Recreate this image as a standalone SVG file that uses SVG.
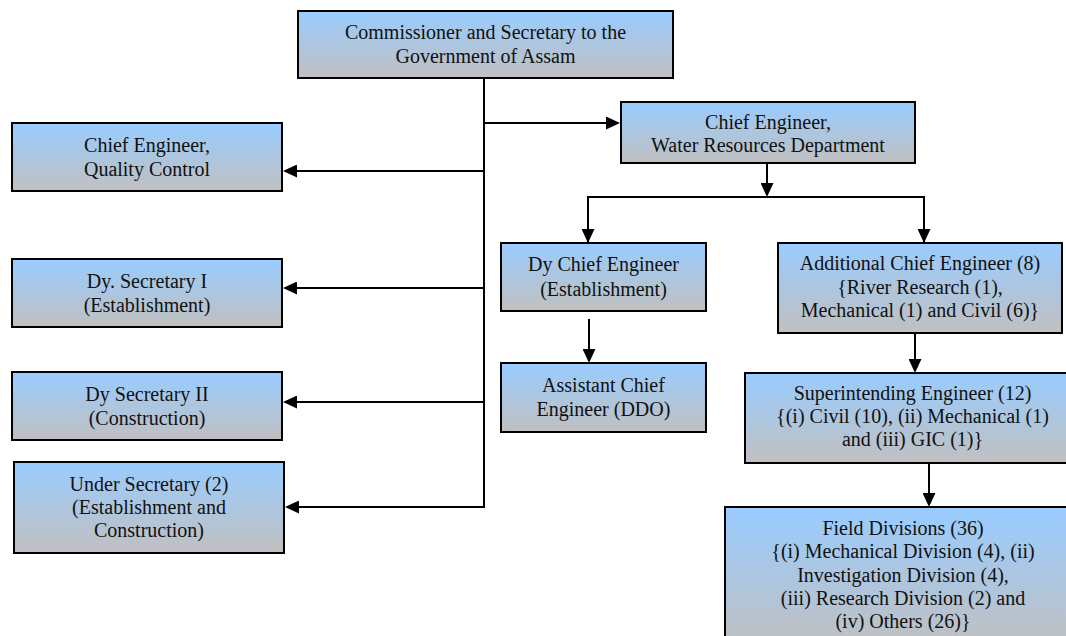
<svg xmlns="http://www.w3.org/2000/svg" width="1066" height="636" viewBox="0 0 1066 636">
<defs>
<linearGradient id="g" x1="0" y1="0" x2="0" y2="1">
<stop offset="0" stop-color="#99CCFF"/>
<stop offset="1" stop-color="#C0C0C0"/>
</linearGradient>
<marker id="ah" viewBox="0 0 14 13" refX="10" refY="6.5" markerWidth="14" markerHeight="13" markerUnits="userSpaceOnUse" orient="auto">
<path d="M0,0 L14,6.5 L0,13 Z" fill="#000"/>
</marker>
</defs>
<style>
.box{fill:url(#g);stroke:#000;stroke-width:2}
text{font-family:"Liberation Serif","Times New Roman",serif;font-size:20px;fill:#111;text-anchor:middle}
.c{fill:none;stroke:#000;stroke-width:2}
.a{marker-end:url(#ah)}
</style>
<rect width="1066" height="636" fill="#fff"/>
<g id="connectors">
<line class="c" x1="484" y1="78" x2="484" y2="508"/>
<line class="c a" x1="484" y1="123" x2="616" y2="123"/>
<line class="c a" x1="485" y1="171" x2="287" y2="171"/>
<line class="c a" x1="485" y1="288" x2="287" y2="288"/>
<line class="c a" x1="485" y1="402" x2="287" y2="402"/>
<line class="c a" x1="485" y1="507" x2="289" y2="507"/>
<line class="c a" x1="767" y1="163" x2="767" y2="193"/>
<polyline class="c" points="588,243 588,197 924,197 924,243"/>
<line class="c a" x1="588" y1="198" x2="588" y2="239"/>
<line class="c a" x1="924" y1="198" x2="924" y2="239"/>
<line class="c a" x1="589" y1="319" x2="589" y2="359"/>
<line class="c a" x1="915" y1="333" x2="915" y2="369"/>
<line class="c a" x1="929" y1="463" x2="929" y2="503"/>
</g>
<g id="n-commissioner">
<rect class="box" x="298" y="11" width="375" height="67"/>
<text x="485.5" y="39">Commissioner and Secretary to the</text>
<text x="485.5" y="63">Government of Assam</text>
</g>
<g id="n-ce-qc">
<rect class="box" x="12" y="123" width="270" height="68"/>
<text x="147" y="152">Chief Engineer,</text>
<text x="147" y="176">Quality Control</text>
</g>
<g id="n-dysec1">
<rect class="box" x="12" y="259" width="270" height="68"/>
<text x="147" y="288">Dy. Secretary I</text>
<text x="147" y="312">(Establishment)</text>
</g>
<g id="n-dysec2">
<rect class="box" x="12" y="372" width="270" height="68"/>
<text x="147" y="401">Dy Secretary II</text>
<text x="147" y="425">(Construction)</text>
</g>
<g id="n-undersec">
<rect class="box" x="14" y="462" width="270" height="91"/>
<text x="149" y="491">Under Secretary (2)</text>
<text x="149" y="514">(Establishment and</text>
<text x="149" y="537">Construction)</text>
</g>
<g id="n-ce-wrd">
<rect class="box" x="621" y="102" width="294" height="61"/>
<text x="768" y="129">Chief Engineer,</text>
<text x="768" y="152">Water Resources Department</text>
</g>
<g id="n-dyce">
<rect class="box" x="501" y="243" width="205" height="68"/>
<text x="603.5" y="271">Dy Chief Engineer</text>
<text x="603.5" y="296">(Establishment)</text>
</g>
<g id="n-ace">
<rect class="box" x="501" y="363" width="205" height="69"/>
<text x="603.5" y="392">Assistant Chief</text>
<text x="603.5" y="416">Engineer (DDO)</text>
</g>
<g id="n-addl-ce">
<rect class="box" x="778" y="243" width="284" height="90"/>
<text x="920" y="270">Additional Chief Engineer (8)</text>
<text x="920" y="294">{River Research (1),</text>
<text x="920" y="317">Mechanical (1) and Civil (6)}</text>
</g>
<g id="n-se">
<rect class="box" x="745" y="373" width="335" height="90"/>
<text x="912.5" y="400">Superintending Engineer (12)</text>
<text x="912.5" y="423">{(i) Civil (10), (ii) Mechanical (1)</text>
<text x="912.5" y="446">and (iii) GIC (1)}</text>
</g>
<g id="n-field">
<rect class="box" x="725" y="507" width="356" height="140"/>
<text x="903" y="535">Field Divisions (36)</text>
<text x="903" y="558">{(i) Mechanical Division (4), (ii)</text>
<text x="903" y="582">Investigation Division (4),</text>
<text x="903" y="605">(iii) Research Division (2) and</text>
<text x="903" y="628">(iv) Others (26)}</text>
</g>
</svg>
